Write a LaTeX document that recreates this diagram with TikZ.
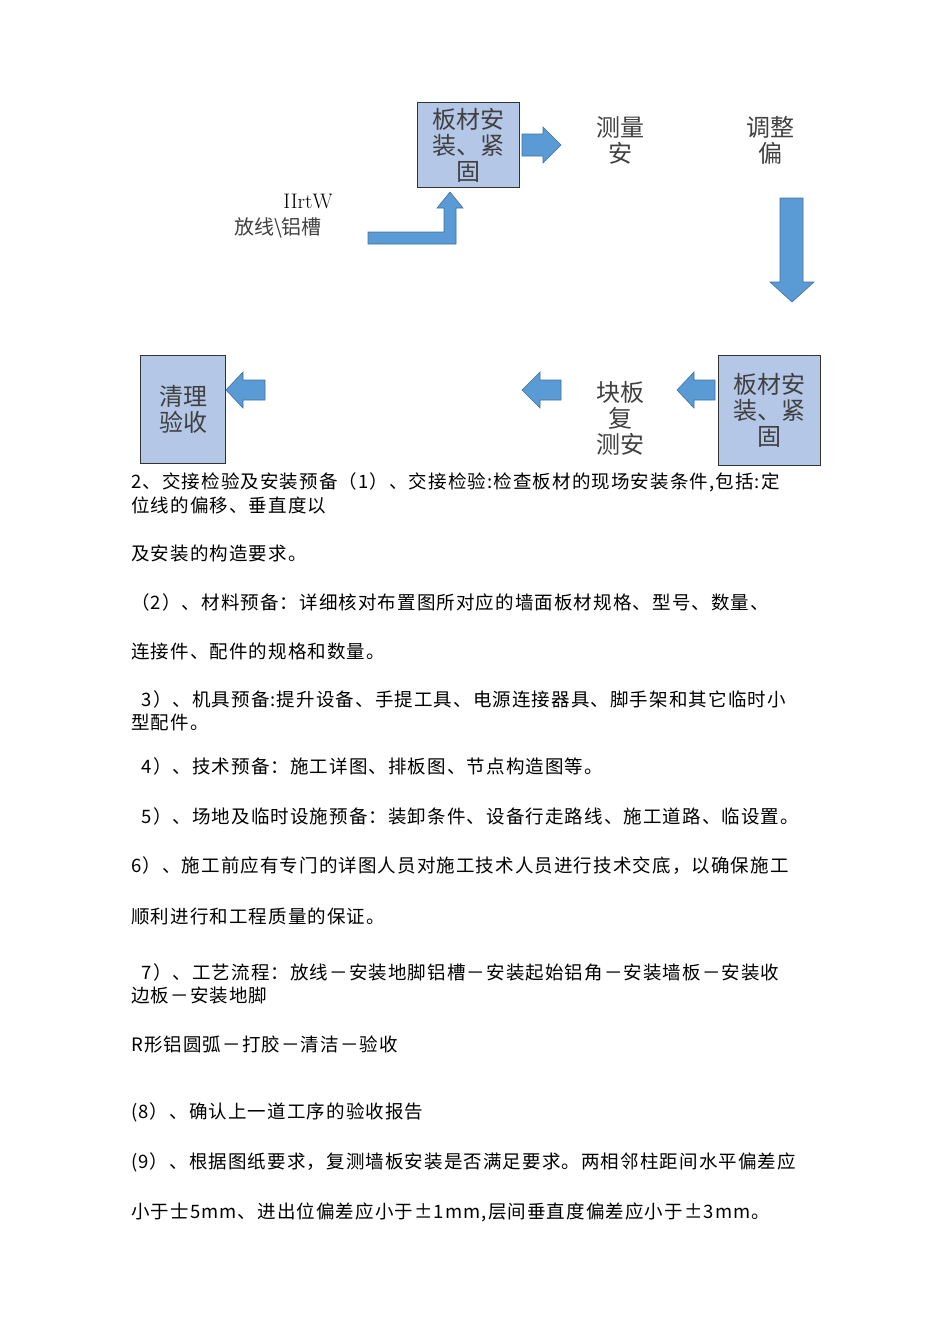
\documentclass[tikz,border=0pt]{standalone}
\usepackage{fontspec}
\newfontfamily\cjk{Noto Sans CJK SC}
\newfontfamily\cjkb[LetterSpace=6]{Noto Sans CJK SC}
\usetikzlibrary{shapes.arrows}
\definecolor{boxfill}{HTML}{B4C7E7}
\definecolor{arrblue}{HTML}{5B9BD5}
\definecolor{arrline}{HTML}{41719C}
\tikzset{
 box/.style={draw=black!80,line width=1.2pt,fill=boxfill,inner sep=0pt,anchor=north west},
 btxt/.style={font=\cjk\fontsize{24}{26}\selectfont,align=center,text=black!75},
 arr/.style={fill=arrblue,draw=arrline,line width=0.6pt},
 body/.style={font=\cjkb\fontsize{18.5}{22}\selectfont,anchor=west,inner sep=0pt}
}
\begin{document}
\begin{tikzpicture}[x=1pt,y=-1pt]
\useasboundingbox (0,0) rectangle (950,1344);
% boxes
\node[box,minimum width=102pt,minimum height=85pt] (b1) at (417,102) {};
\node[btxt] at (b1.center) {板材安\\装、紧\\固};
\node[box,minimum width=102pt,minimum height=110pt] (b2) at (718,355) {};
\node[btxt] at (b2.center) {板材安\\装、紧\\固};
\node[box,minimum width=85pt,minimum height=108pt] (b3) at (140,355) {};
\node[btxt] at (b3.center) {清理\\验收};
% texts
\node[btxt] (t1) at (620,140) {测量\\安};
\node[btxt] (t2) at (770,140) {调整\\偏};
\node[btxt] (t3) at (620,418) {块板\\复\\测安};
\node[font=\fontsize{21}{22}\selectfont] (t4) at (308,201) {IIrtW};
\node[font=\cjk\fontsize{20}{22}\selectfont,text=black!75] (t5) at (278,228) {放线\textbackslash 铝槽};
% arrows
\draw[arr] (522,134) -- (543,134) -- (543,127) -- (561,145) -- (543,163) -- (543,156) -- (522,156) -- cycle;
\draw[arr] (780,198) -- (803,198) -- (803,282) -- (814,282) -- (792,302) -- (770,282) -- (780,282) -- cycle;
\draw[arr] (715,380) -- (694,380) -- (694,372) -- (677,390) -- (694,408) -- (694,400) -- (715,400) -- cycle;
\draw[arr] (561,380) -- (540,380) -- (540,372) -- (522,390) -- (540,408) -- (540,400) -- (561,400) -- cycle;
\draw[arr] (265,380) -- (243,380) -- (243,372) -- (226,390) -- (243,408) -- (243,400) -- (265,400) -- cycle;
\draw[arr] (368,232) -- (444,232) -- (444,208) -- (437,208) -- (450,192) -- (463,208) -- (456,208) -- (456,244) -- (368,244) -- cycle;
% body text
\begin{scope}[every node/.style={body}]
\node (l1) at (131,482) {2、交接检验及安装预备（1）、交接检验:检查板材的现场安装条件,包括:定};
\node (l2) at (131,505) {位线的偏移、垂直度以};
\node (l3) at (131,553) {及安装的构造要求。};
\node (l4) at (131,602) {（2）、材料预备：详细核对布置图所对应的墙面板材规格、型号、数量、};
\node (l5) at (131,651) {连接件、配件的规格和数量。};
\node (l6) at (131,699) {\ \ 3）、机具预备:提升设备、手提工具、电源连接器具、脚手架和其它临时小};
\node (l7) at (131,722) {型配件。};
\node (l8) at (131,766) {\ \ 4）、技术预备：施工详图、排板图、节点构造图等。};
\node (l9) at (131,816) {\ \ 5）、场地及临时设施预备：装卸条件、设备行走路线、施工道路、临设置。};
\node (l10) at (131,866) {6）、施工前应有专门的详图人员对施工技术人员进行技术交底，以确保施工};
\node (l11) at (131,916) {顺利进行和工程质量的保证。};
\node (l12) at (131,972) {\ \ 7）、工艺流程：放线－安装地脚铝槽－安装起始铝角－安装墙板－安装收};
\node (l13) at (131,995) {边板－安装地脚};
\node (l14) at (131,1044) {R形铝圆弧－打胶－清洁－验收};
\node (l15) at (131,1112) {(8）、确认上一道工序的验收报告};
\node (l16) at (131,1162) {(9）、根据图纸要求，复测墙板安装是否满足要求。两相邻柱距间水平偏差应};
\node (l17) at (131,1212) {小于士5mm、进出位偏差应小于±1mm,层间垂直度偏差应小于±3mm。};
\end{scope}
\end{tikzpicture}
\end{document}
